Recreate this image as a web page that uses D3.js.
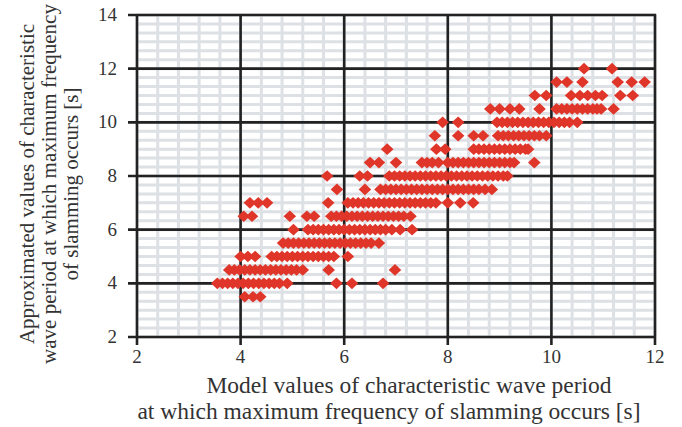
<!DOCTYPE html>
<html>
<head>
<meta charset="utf-8">
<script src="https://cdn.jsdelivr.net/npm/d3@7"></script>
<style>
  body { margin: 0; background: #fff; }
  svg { display: block; }
  text { font-family: "Liberation Serif", "Times New Roman", serif; fill: #333; }
</style>
</head>
<body>
<svg id="chart" width="682" height="427"></svg>
<script>
// approximated value (y) for each row, and the model values (x) read along that row
var yLevels = [3.5, 4, 4.5, 5, 5.5, 6, 6.5, 7, 7.5, 8, 8.5, 9, 9.5, 10, 10.5, 11, 11.5, 12]

var xAt3_5 = [4.08, 4.24, 4.38]
var xAt4 = [3.55, 3.65, 3.75, 3.85, 3.95, 4.05, 4.15, 4.25, 4.35, 4.45, 4.55, 4.65, 4.75, 4.9, 5.85, 6.15, 6.75]
var xAt4_5 = [3.78, 3.88, 3.98, 4.08, 4.18, 4.28, 4.38, 4.48, 4.58, 4.68, 4.78, 4.88, 4.98, 5.08, 5.2, 5.7, 6.98]
var xAt5 = [4.0, 4.14, 4.28, 4.6, 4.7, 4.8, 4.9, 5.0, 5.1, 5.2, 5.3, 5.4, 5.5, 5.6, 5.7, 5.8, 6.07]
var xAt5_5 = [4.82, 4.92, 5.02, 5.12, 5.22, 5.32, 5.42, 5.52, 5.62, 5.72, 5.82, 5.92, 6.02, 6.12, 6.22, 6.32, 6.42, 6.52, 6.67]
var xAt6 = [5.02, 5.3, 5.4, 5.5, 5.6, 5.7, 5.8, 5.9, 6.0, 6.1, 6.2, 6.3, 6.4, 6.5, 6.6, 6.7, 6.8, 6.92, 7.08, 7.31]
var xAt6_5 = [4.06, 4.22, 4.95, 5.28, 5.42, 5.75, 5.85, 5.95, 6.05, 6.15, 6.25, 6.35, 6.45, 6.55, 6.65, 6.75, 6.85, 6.95, 7.05, 7.15, 7.28]
var xAt7 = [4.18, 4.34, 4.51, 5.69, 6.07, 6.17, 6.27, 6.37, 6.47, 6.57, 6.67, 6.77, 6.87, 6.97, 7.07, 7.17, 7.27, 7.37, 7.47, 7.57, 7.67, 7.77, 8.0, 8.24, 8.49]
var xAt7_5 = [5.86, 6.4, 6.7, 6.8, 6.9, 7.0, 7.1, 7.2, 7.3, 7.4, 7.5, 7.6, 7.7, 7.8, 7.9, 8.0, 8.1, 8.2, 8.3, 8.4, 8.5, 8.6, 8.72, 8.85]
var xAt8 = [5.67, 6.3, 6.45, 6.87, 6.97, 7.07, 7.17, 7.27, 7.37, 7.47, 7.57, 7.67, 7.77, 7.87, 7.97, 8.07, 8.17, 8.27, 8.37, 8.47, 8.57, 8.67, 8.77, 8.87, 8.97, 9.07, 9.15]
var xAt8_5 = [6.5, 6.67, 7.0, 7.5, 7.6, 7.7, 7.82, 8.0, 8.1, 8.2, 8.3, 8.4, 8.5, 8.6, 8.7, 8.8, 8.9, 9.0, 9.1, 9.2, 9.28, 9.67]
var xAt9 = [6.83, 7.78, 7.95, 8.5, 8.6, 8.7, 8.8, 8.9, 9.0, 9.1, 9.2, 9.3, 9.4, 9.5, 9.55]
var xAt9_5 = [7.75, 8.2, 8.5, 8.68, 8.97, 9.07, 9.17, 9.27, 9.37, 9.47, 9.57, 9.67, 9.77, 9.9]
var xAt10 = [7.9, 8.2, 8.95, 9.05, 9.15, 9.25, 9.35, 9.45, 9.55, 9.65, 9.75, 9.85, 9.95, 10.05, 10.15, 10.25, 10.35, 10.5]
var xAt10_5 = [8.82, 9.0, 9.2, 9.38, 9.77, 10.1, 10.2, 10.3, 10.4, 10.5, 10.6, 10.7, 10.8, 10.88, 10.96, 11.2]
var xAt11 = [9.68, 9.9, 10.38, 10.55, 10.7, 10.85, 10.98, 11.33, 11.57]
var xAt11_5 = [10.1, 10.3, 10.6, 11.28, 11.55, 11.8]
var xAt12 = [10.63, 11.17]

var xRows = [xAt3_5, xAt4, xAt4_5, xAt5, xAt5_5, xAt6, xAt6_5, xAt7, xAt7_5, xAt8,
             xAt8_5, xAt9, xAt9_5, xAt10, xAt10_5, xAt11, xAt11_5, xAt12]

var xTicks = [2, 4, 6, 8, 10, 12]
var yTicks = [2, 4, 6, 8, 10, 12, 14]
var xTitle = ["Model values of characteristic wave period",
              "at which maximum frequency of slamming occurs [s]"]
var yTitle = ["Approximated values of characteristic",
              "wave period at which maximum frequency",
              "of slamming occurs [s]"]

var points = []
for(var i=0; i<yLevels.length; i++)
{
    for(var j=0; j<xRows[i].length; j++)
    {
        points.push({x: xRows[i][j], y: yLevels[i]})
    }
}

var svg = d3.select("#chart")
var plotLeft = 137, plotRight = 655, plotTop = 15, plotBottom = 337

var x = d3.scaleLinear().domain([2, 12]).range([plotLeft, plotRight])
var y = d3.scaleLinear().domain([2, 14]).range([plotBottom, plotTop])

// minor grid: 0.4 s on x, 1/3 s on y
var minorX = d3.range(0, 26).map(function(k){ return 2 + k * 0.4 })
var minorY = d3.range(0, 37).map(function(k){ return 2 + k / 3 })

var grid = svg.append("g")
grid.selectAll("line.mx")
    .data(minorX)
    .enter()
        .append("line")
        .attr("class", "mx")
        .attr("x1", function(d){ return x(d) })
        .attr("x2", function(d){ return x(d) })
        .attr("y1", plotTop)
        .attr("y2", plotBottom)
        .attr("stroke", "#dde0e4")
        .attr("stroke-width", 3)

grid.selectAll("line.my")
    .data(minorY)
    .enter()
        .append("line")
        .attr("class", "my")
        .attr("x1", plotLeft)
        .attr("x2", plotRight)
        .attr("y1", function(d){ return y(d) })
        .attr("y2", function(d){ return y(d) })
        .attr("stroke", "#dde0e4")
        .attr("stroke-width", 3)

// major grid, running a little past the frame as ticks
grid.selectAll("line.Mx")
    .data(xTicks)
    .enter()
        .append("line")
        .attr("class", "Mx")
        .attr("x1", function(d){ return x(d) })
        .attr("x2", function(d){ return x(d) })
        .attr("y1", plotTop - 1)
        .attr("y2", plotBottom + 8)
        .attr("stroke", "#222")
        .attr("stroke-width", 2.6)

grid.selectAll("line.My")
    .data(yTicks)
    .enter()
        .append("line")
        .attr("class", "My")
        .attr("x1", plotLeft - 9)
        .attr("x2", plotRight + 1)
        .attr("y1", function(d){ return y(d) })
        .attr("y2", function(d){ return y(d) })
        .attr("stroke", "#222")
        .attr("stroke-width", 2.6)

// diamonds
svg.append("g")
    .selectAll("path")
    .data(points)
    .enter()
        .append("path")
        .attr("transform", function(d){ return "translate(" + x(d.x) + "," + y(d.y) + ")" })
        .attr("d", "M0,-5.8L6.3,0L0,5.8L-6.3,0Z")
        .attr("fill", "#e0362a")

// tick labels
svg.append("g")
    .selectAll("text")
    .data(xTicks)
    .enter()
        .append("text")
        .attr("x", function(d){ return x(d) })
        .attr("y", 363)
        .attr("text-anchor", "middle")
        .attr("font-size", 19)
        .text(function(d){ return d })

svg.append("g")
    .selectAll("text")
    .data(yTicks)
    .enter()
        .append("text")
        .attr("x", 117)
        .attr("y", function(d){ return y(d) + 6 })
        .attr("text-anchor", "end")
        .attr("font-size", 19)
        .text(function(d){ return d })

// axis titles (the two x-title lines are not centred on each other in the original)
var xTitleCentre = [409, 389]
svg.append("g")
    .selectAll("text")
    .data(xTitle)
    .enter()
        .append("text")
        .attr("x", function(d, k){ return xTitleCentre[k] })
        .attr("y", function(d, k){ return 393 + k * 26 })
        .attr("text-anchor", "middle")
        .attr("font-size", 23.5)
        .text(function(d){ return d })

svg.append("g")
    .attr("transform", "rotate(-90)")
    .selectAll("text")
    .data(yTitle)
    .enter()
        .append("text")
        .attr("x", -184)
        .attr("y", function(d, k){ return 34 + k * 22 })
        .attr("text-anchor", "middle")
        .attr("font-size", 21)
        .text(function(d){ return d })
</script>
</body>
</html>
